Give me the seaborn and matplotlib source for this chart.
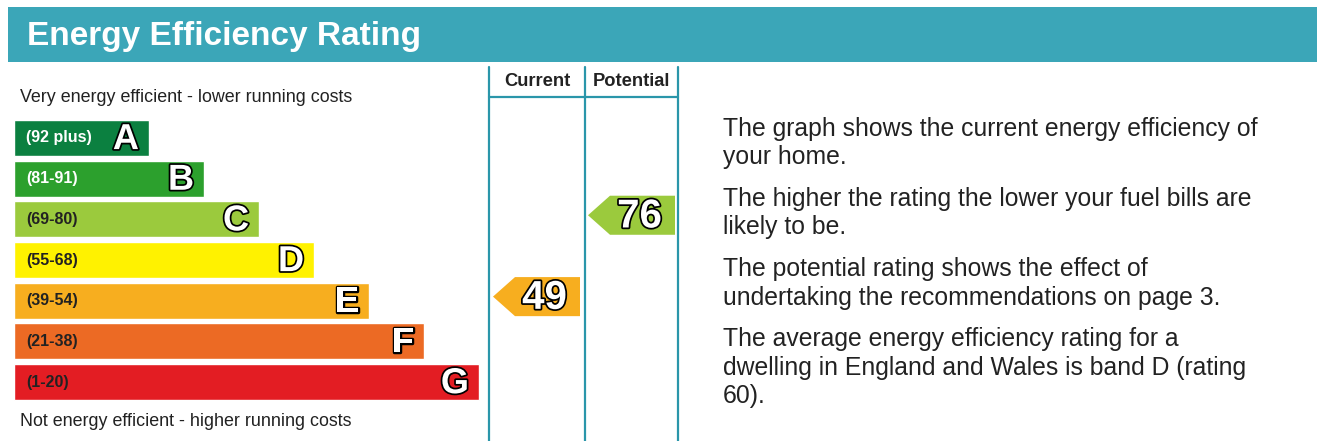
import numpy as np
import pandas as pd
import seaborn as sns
import matplotlib.pyplot as plt
import matplotlib.patheffects as pe
from matplotlib.patches import Polygon, Rectangle

# Band data
bands = ['A', 'B', 'C', 'D', 'E', 'F', 'G']
band_ranges = ['(92 plus)', '(81-91)', '(69-80)', '(55-68)', '(39-54)', '(21-38)', '(1-20)']
band_lower = [92, 81, 69, 55, 39, 21, 1]
band_colors = ['#0B8040', '#2CA02D', '#9BCA3D', '#FFF200', '#F7AE1F', '#EC6A24', '#E31D23']
range_text_colors = ['white', 'white', '#222222', '#222222', '#222222', '#222222', '#222222']

current_rating = 49
potential_rating = 76

column_labels = ['Current', 'Potential']

paragraphs = [
    ['The graph shows the current energy efficiency of', 'your home.'],
    ['The higher the rating the lower your fuel bills are', 'likely to be.'],
    ['The potential rating shows the effect of', 'undertaking the recommendations on page 3.'],
    ['The average energy efficiency rating for a',
     'dwelling in England and Wales is band D (rating', '60).'],
]


def band_of(rating):
    for i, lo in enumerate(band_lower):
        if rating >= lo:
            return i
    return len(band_lower) - 1


sns.set_style('white')
plt.rcParams['font.family'] = ['Liberation Sans', 'DejaVu Sans']

W, H = 1317, 441
fig = plt.figure(figsize=(W / 100, H / 100), dpi=100)

# background axes in pixel units
bg = fig.add_axes([0, 0, 1, 1])
bg.set_xlim(0, W)
bg.set_ylim(H, 0)
bg.axis('off')

teal = '#3BA6B8'
line_teal = '#2A96AA'
bg.add_patch(Rectangle((8, 7), W - 8, 55, color=teal, lw=0))
bg.text(27, 36, 'Energy Efficiency Rating', color='white', fontsize=24,
        fontweight='bold', va='center', ha='left')

bg.text(20, 97, 'Very energy efficient - lower running costs', fontsize=12.9,
        color='#222222', va='center')
bg.text(20, 422, 'Not energy efficient - higher running costs', fontsize=12.9,
        color='#222222', va='center')

# rating columns
col_x = [489, 585, 678]
for x in col_x:
    bg.plot([x, x], [67, H], color=line_teal, lw=1.6)
bg.plot([col_x[0], col_x[-1]], [96.5, 96.5], color=line_teal, lw=1.6)
for i, lab in enumerate(column_labels):
    bg.text((col_x[i] + col_x[i + 1]) / 2, 82, lab, fontsize=13.2, fontweight='bold',
            color='#222222', ha='center', va='center')

# explanatory text
y = 129
for para in paragraphs:
    for line in para:
        bg.text(723, y, line, fontsize=17.8, color='#222222', va='center', ha='left')
        y += 28.3
    y += 13.5

# band bars
x0, x1 = 14, 680
top, bottom = 117.6, 402.4
ax = fig.add_axes([x0 / W, 1 - bottom / H, (x1 - x0) / W, (bottom - top) / H])
df = pd.DataFrame({
    'band': bands,
    'length': [135 + 55 * i for i in range(len(bands))],
})
sns.barplot(data=df, x='length', y='band', hue='band', palette=band_colors,
            orient='h', width=0.885, legend=False, ax=ax, saturation=1)
ax.set_xlim(0, x1 - x0)
ax.set_ylim(len(bands) - 0.5, -0.5)
ax.axis('off')

outline = [pe.withStroke(linewidth=2.5, foreground='black')]
for i, b in enumerate(bands):
    length = df['length'][i]
    ax.text(12, i, band_ranges[i], fontsize=11.5, fontweight='bold',
            color=range_text_colors[i], va='center', ha='left')
    ax.text(length - 10, i + 0.04, b, fontsize=26, fontweight='bold', color='white',
            va='center', ha='right', path_effects=outline)


def rating_arrow(rating, left, right):
    i = band_of(rating)
    cy = i - 0.1
    h = 0.48
    tip = 22
    pts = [(left, cy), (left + tip, cy - h), (right, cy - h), (right, cy + h), (left + tip, cy + h)]
    ax.add_patch(Polygon(pts, closed=True, color=band_colors[i], lw=0, clip_on=False))
    ax.text((left + tip + right) / 2 - 3, cy + 0.03, str(rating), fontsize=29,
            fontweight='bold', color='white', ha='center', va='center',
            path_effects=outline)


rating_arrow(current_rating, 493 - x0, 580 - x0)
rating_arrow(potential_rating, 588 - x0, 675 - x0)

fig.savefig('out.png', dpi=100)
